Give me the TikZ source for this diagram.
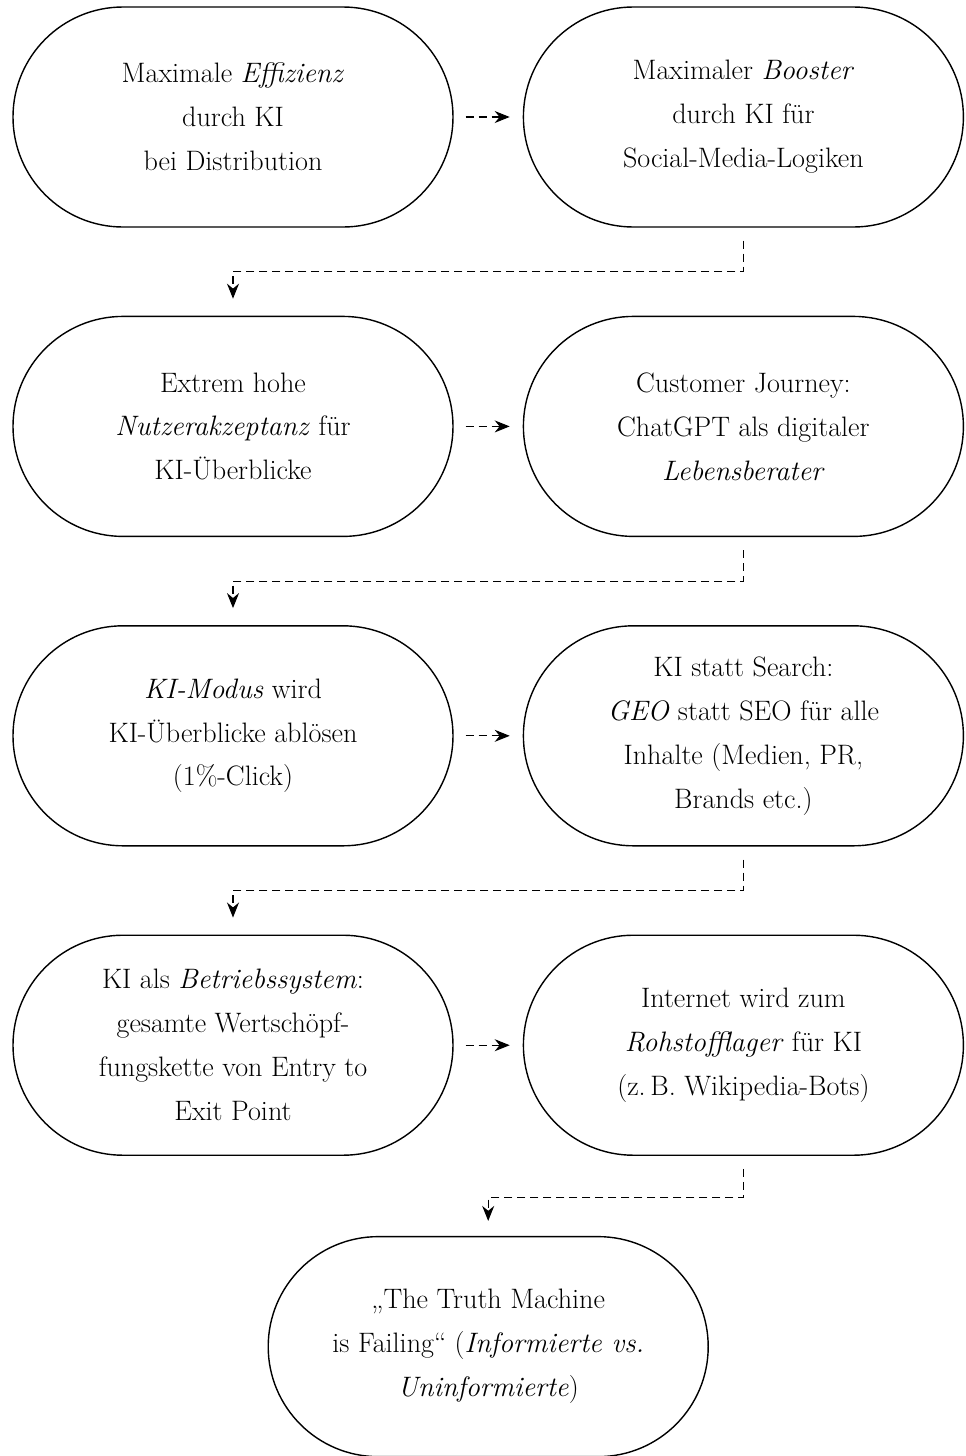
\documentclass[tikz,border=0pt]{standalone}
\usetikzlibrary{positioning,calc,arrows.meta}

\tikzset{
    box/.style={draw, thick, rectangle, rounded corners=2.2cm,
        minimum width=8.8cm, minimum height=4.4cm, inner sep=0pt,
        align=center, font=\fontsize{16}{25}\selectfont},
    flow/.style={-{Stealth[length=0.3cm, width=0.24cm]}, semithick,
        dash pattern=on 0.16cm off 0.1cm},
}

\begin{document}
\begin{tikzpicture}[node distance=1.76cm and 1.38cm]
    \useasboundingbox (-4.66,2.34) rectangle (14.64,-26.78);

    \node[box] (A1) at (0,0) {Maximale \textit{Effizienz}\\durch KI\\bei Distribution};
    \node[box, right=of A1] (B1) {Maximaler \textit{Booster}\\durch KI für\\Social-Media-Logiken};

    \node[box, below=of A1] (A2) {Extrem hohe\\\textit{Nutzerakzeptanz} für\\KI-Überblicke};
    \node[box, below=of B1] (B2) {Customer Journey:\\ChatGPT als digitaler\\\textit{Lebensberater}};

    \node[box, below=of A2] (A3) {\textit{KI-Modus} wird\\KI-Überblicke ablösen\\(1\%-Click)};
    \node[box, below=of B2] (B3) {KI statt Search:\\\textit{GEO} statt SEO für alle\\Inhalte (Medien, PR,\\Brands etc.)};

    \node[box, below=of A3] (A4) {KI als \textit{Betriebssystem}:\\gesamte Wertschöpf-\\fungskette von Entry to\\Exit Point};
    \node[box, below=of B3] (B4) {Internet wird zum\\\textit{Rohstofflager} für KI\\(z.\,B. Wikipedia-Bots)};

    \coordinate (M4) at ($(A4.south)!0.5!(B4.south)$);
    \node[box, below=1.6cm of M4] (C5) {„The Truth Machine\\is Failing“ (\textit{Informierte vs.}\\\textit{Uninformierte})};

    % across
    \draw[flow, shorten <=0.24cm, shorten >=0.26cm] (A1) -- (B1);
    \draw[flow, shorten <=0.24cm, shorten >=0.26cm] (A2) -- (B2);
    \draw[flow, shorten <=0.24cm, shorten >=0.26cm] (A3) -- (B3);
    \draw[flow, shorten <=0.24cm, shorten >=0.26cm] (A4) -- (B4);

    % down to next row
    \draw[flow, shorten <=0.26cm, shorten >=0.34cm] (B1.south) -- ++(0,-0.88) -| (A2.north);
    \draw[flow, shorten <=0.26cm, shorten >=0.34cm] (B2.south) -- ++(0,-0.88) -| (A3.north);
    \draw[flow, shorten <=0.26cm, shorten >=0.34cm] (B3.south) -- ++(0,-0.88) -| (A4.north);
    \draw[flow, shorten <=0.26cm, shorten >=0.3cm] (B4.south) -- ++(0,-0.84) -| (C5.north);

\end{tikzpicture}
\end{document}
